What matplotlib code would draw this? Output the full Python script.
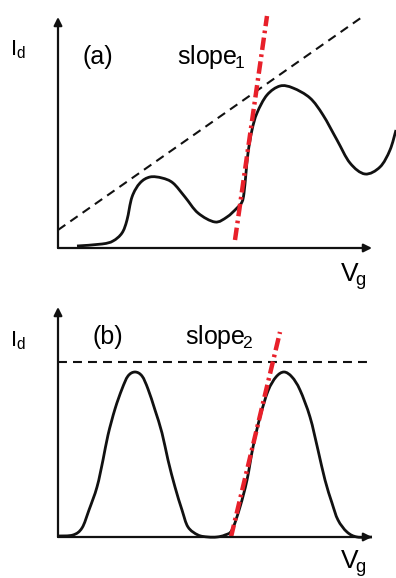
"""Sketch of I_d vs V_g: (a) rising oscillatory curve, (b) two isolated peaks."""

import matplotlib

matplotlib.use("Agg")

import matplotlib.pyplot as plt  # noqa: E402
import numpy as np  # noqa: E402
from matplotlib.patches import PathPatch  # noqa: E402
from matplotlib.path import Path  # noqa: E402

plt.rcParams.update(
    {
        "font.family": ["Liberation Sans", "DejaVu Sans"],
        "mathtext.fontset": "custom",
        "mathtext.rm": "Liberation Sans",
        "mathtext.it": "Liberation Sans",
    }
)

# data units: arbitrary (origin at axes corner)
CURVE_A_X = [19, 44, 55, 64, 69, 74, 82, 92, 104, 115, 127, 140, 157, 169, 179,
             184, 186, 188, 190, 194, 199, 209, 222, 235, 252, 265, 279, 292,
             307, 322, 332, 338]
CURVE_A_Y = [2, 4, 7, 15, 28, 51, 65, 71, 70, 65, 51, 35, 26, 31, 40,
             46, 55, 75, 95, 118, 135, 153, 162, 160, 150, 133, 108, 85,
             74, 81, 98, 118]
TANGENT_A_X = [0, 307]
TANGENT_A_Y = [18, 233]
SLOPE_A_X = [177, 209]
SLOPE_A_Y = [8, 232]

CURVE_B_X = [0, 15, 24, 31, 39, 45, 50, 57, 64, 70, 77, 84, 90, 97, 104, 110,
             117, 124, 130, 140, 150, 159, 167, 174, 182, 189, 195, 202, 210,
             218, 226, 234, 242, 252, 260, 267, 274, 280, 289, 299, 314]
CURVE_B_Y = [1, 2, 9, 27, 50, 77, 102, 128, 148, 161, 165, 161, 148, 127, 104,
             77, 50, 27, 10, 2, 0, 0, 2, 7, 30, 57, 90, 120, 146,
             160, 165, 160, 147, 120, 87, 57, 34, 17, 5, 0, 0]
LEVEL_B = 175
SLOPE_B_X = [173, 222]
SLOPE_B_Y = [0, 205]

RED = "#e8202a"
INK = "#111111"

fig = plt.figure(figsize=(3.96, 5.78), dpi=100)
W, H = 396, 578


def smooth_curve(ax, xs, ys):
    """Draw a line through the read points as a Catmull-Rom Bezier path."""
    p = np.column_stack([xs, ys]).astype(float)
    ext = np.vstack([p[0], p, p[-1]])
    verts = [p[0]]
    codes = [Path.MOVETO]
    for i in range(1, len(ext) - 2):
        p0, p1, p2, p3 = ext[i - 1], ext[i], ext[i + 1], ext[i + 2]
        verts += [p1 + (p2 - p0) / 6, p2 - (p3 - p1) / 6, p2]
        codes += [Path.CURVE4] * 3
    ax.add_patch(PathPatch(Path(verts, codes), fill=False, edgecolor=INK,
                           lw=2.0, clip_on=False, joinstyle="round"))


def panel(left, bottom, width, height):
    ax = fig.add_axes([left / W, bottom / H, width / W, height / H])
    ax.set_xlim(0, width)
    ax.set_ylim(0, height)
    ax.axis("off")
    arrow = dict(arrowstyle="-|>", color=INK, lw=1.6, mutation_scale=12,
                 shrinkA=0, shrinkB=0)
    ax.annotate("", xy=(0, height), xytext=(0, 0), arrowprops=arrow)
    ax.annotate("", xy=(width, 0), xytext=(0, 0), arrowprops=arrow)
    return ax


def labels(ax, tag, slope, tag_x, slope_x, y, id_y, vg_y):
    ax.text(-48, id_y, r"$\mathrm{I}_{\mathrm{d}}$", fontsize=16, va="baseline")
    ax.text(tag_x, y, tag, fontsize=18, va="baseline")
    ax.text(slope_x, y, slope, fontsize=18, va="baseline")
    ax.text(282, vg_y, r"$\mathrm{V}_{\!\mathrm{g}}$", fontsize=19, va="baseline",
            clip_on=False)


# (a)
ax_a = panel(58, H - 248, 314, 231)
ax_a.plot(TANGENT_A_X, TANGENT_A_Y, color=INK, lw=1.5, dashes=(4.3, 2.9),
          clip_on=False)
smooth_curve(ax_a, CURVE_A_X, CURVE_A_Y)
ax_a.plot(SLOPE_A_X, SLOPE_A_Y, color=RED, lw=3.2, dashes=(2.8, 1.0, 0.6, 1.0),
          clip_on=False)
labels(ax_a, "(a)", r"$\mathrm{slope}_{\!1}$", 25, 119, 184, 193, -34)

# (b)
ax_b = panel(58, H - 537, 314, 230)
ax_b.plot([0, 314], [LEVEL_B, LEVEL_B], color=INK, lw=1.5, dashes=(4.3, 2.9),
          clip_on=False)
smooth_curve(ax_b, CURVE_B_X, CURVE_B_Y)
ax_b.plot(SLOPE_B_X, SLOPE_B_Y, color=RED, lw=3.2, dashes=(2.8, 1.0, 0.6, 1.0),
          clip_on=False)
labels(ax_b, "(b)", r"$\mathrm{slope}_{\!2}$", 34, 127, 193, 191, -32)

fig.savefig("out.png", dpi=100)
